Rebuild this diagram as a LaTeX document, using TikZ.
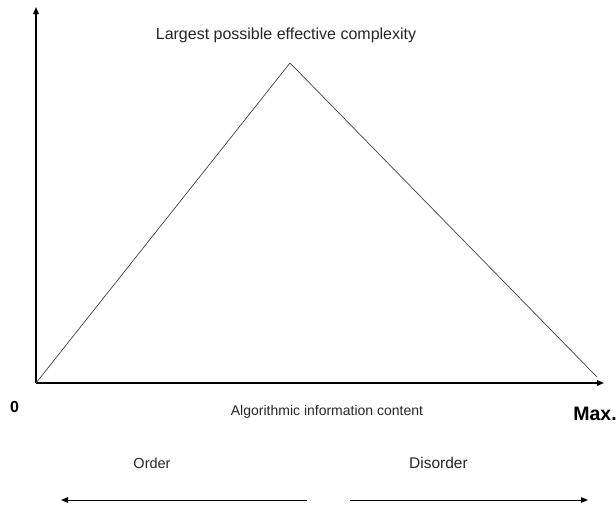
\documentclass[tikz,border=0pt]{standalone}
\usepackage{fontspec}
\setmainfont{Liberation Sans}
\usetikzlibrary{arrows.meta, positioning}

\begin{document}
\begin{tikzpicture}[x=1pt, y=-1pt, thick, >={Triangle[length=7pt, width=5.5pt]},
    every node/.style={inner sep=0pt, anchor=base, text=black!85}]
			\useasboundingbox (0,0) rectangle (616,506);

			% Draw the axes
			\coordinate (Origin) at (36, 383);
			\coordinate (YTop) at (36, 7);
			\coordinate (XEnd) at (604, 383);
			\draw[->, line width=1.4pt] (Origin) -- (YTop);
			\draw[->, line width=1.4pt] (Origin) -- (XEnd);

			% Draw the triangle
			\coordinate (Peak) at (290, 63);
			\coordinate (Right) at (597, 377);
			\draw[-, line width=0.7pt, black!75] (Origin) -- (Peak) -- (Right);

			\node[font=\fontsize{16}{18}\selectfont] (Top) at (286, 39) {Largest possible effective complexity};
			\node[font=\fontsize{16}{18}\selectfont\bfseries, text=black] (Zero) at (14.5, 412) {0};
			\node[font=\fontsize{19.5}{22}\selectfont\bfseries, anchor=base west, text=black] (Max) at (573, 420) {Max.};
			\node[font=\fontsize{14}{16}\selectfont] (Content) at (327, 415) {Algorithmic information content};

			% Draw the order / disorder arrows
			\node[font=\fontsize{14.5}{16}\selectfont] (Order) at (152, 468) {Order};
			\node[font=\fontsize{15.5}{17}\selectfont] (Disorder) at (438.5, 468) {Disorder};
			\coordinate (OrdA) at (307, 500);
			\coordinate (OrdB) at (61, 500);
			\coordinate (DisA) at (350, 500);
			\coordinate (DisB) at (588, 500);
			\draw[->, line width=1pt] (OrdA) -- (OrdB);
			\draw[->, line width=1pt] (DisA) -- (DisB);

		\end{tikzpicture}
\end{document}
